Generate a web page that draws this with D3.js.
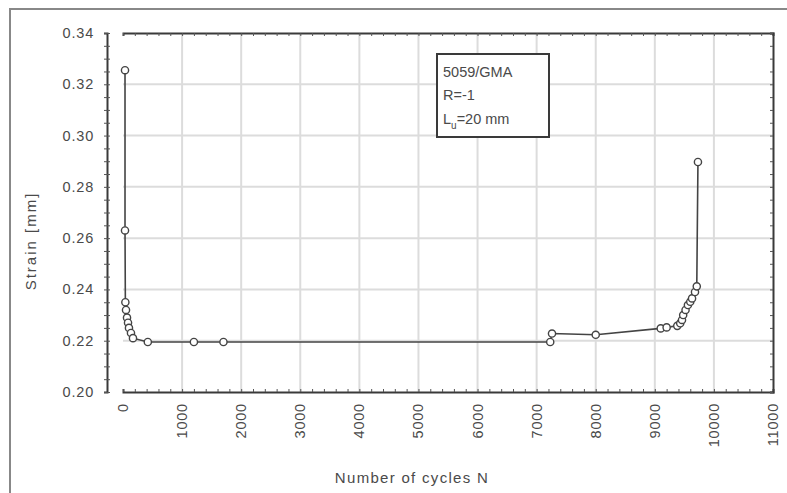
<!DOCTYPE html>
<html lang="en">
<head>
  <script src="https://d3js.org/d3.v7.min.js"></script>
  <style>
    body { margin: 0; background: #fff; }
    text { font-family: Arial, "Liberation Sans", sans-serif; fill: #4a4a4a; }
  </style>
</head>
<body>
  <script>
    var width = 787,
      height = 493;

    // cycles and strain
    var cycles = [34, 34, 40, 51, 68, 85, 101, 135, 169, 420, 1200, 1700,
      7230, 7260, 8000, 9100, 9200, 9380, 9430, 9460, 9480, 9520, 9560, 9600, 9630, 9680, 9710, 9730];
    var strain = [0.3255, 0.2630, 0.2350, 0.2320, 0.2290, 0.2270, 0.2250, 0.2230, 0.2210, 0.2195, 0.2195, 0.2195,
      0.2195, 0.2228, 0.2223, 0.2248, 0.2252, 0.2258, 0.2268, 0.2281, 0.2300, 0.2320, 0.2339, 0.2352, 0.2365, 0.2390, 0.2412, 0.2897];
    var xTicks = [0, 1000, 2000, 3000, 4000, 5000, 6000, 7000, 8000, 9000, 10000, 11000];
    var yTicks = [0.20, 0.22, 0.24, 0.26, 0.28, 0.30, 0.32, 0.34];
    var noteLines = ["5059/GMA", "R=-1"];

    var data = cycles.map(function(c, i) { return {n: c, s: strain[i]}; });

    var x = d3.scaleLinear().domain([0, 11000]).range([123, 773]);
    var y = d3.scaleLinear().domain([0.20, 0.34]).range([392, 33]);

    var svg = d3.select('body')
      .append('svg')
      .attr('width', width)
      .attr('height', height);

    // outer frame (only top and left visible)
    svg.append('path')
      .attr('d', 'M10,' + height + 'V9H' + width)
      .attr('fill', 'none')
      .attr('stroke', '#888')
      .attr('stroke-width', 2);

    // grid
    svg.append('g')
      .selectAll('line')
      .data(xTicks.slice(1, -1))
      .join('line')
      .attr('x1', function(d) { return x(d); })
      .attr('x2', function(d) { return x(d); })
      .attr('y1', y(0.34))
      .attr('y2', y(0.20))
      .attr('stroke', '#dcdcdc')
      .attr('stroke-width', 2);

    svg.append('g')
      .selectAll('line')
      .data(yTicks.slice(1, -1))
      .join('line')
      .attr('x1', x(0))
      .attr('x2', x(11000))
      .attr('y1', function(d) { return y(d); })
      .attr('y2', function(d) { return y(d); })
      .attr('stroke', '#dcdcdc')
      .attr('stroke-width', 2);

    // minor ticks on the box
    var xMinor = d3.range(0, 11001, 200);
    var yMinor = d3.range(0, 29).map(function(i) { return 0.20 + i * 0.005; });

    var axBottom = d3.axisBottom(x).tickValues(xMinor).tickSize(-3).tickFormat('');
    var axTop = d3.axisTop(x).tickValues(xMinor).tickSize(-3).tickFormat('');
    var axRight = d3.axisRight(y).tickValues(yMinor).tickSize(-3).tickFormat('');

    svg.append('g').attr('transform', 'translate(0,' + y(0.20) + ')').call(axBottom);
    svg.append('g').attr('transform', 'translate(0,' + y(0.34) + ')').call(axTop);
    svg.append('g').attr('transform', 'translate(' + x(11000) + ',0)').call(axRight);

    svg.selectAll('.domain').attr('stroke', '#3a3a3a').attr('stroke-width', 2);
    svg.selectAll('.tick line').attr('stroke', '#555');

    // offset y axis
    var axLeft = svg.append('g')
      .attr('transform', 'translate(107,0)')
      .call(d3.axisLeft(y).tickValues(yMinor).tickSize(3).tickFormat(''));
    axLeft.select('.domain').attr('stroke', '#3a3a3a').attr('stroke-width', 2);
    axLeft.selectAll('.tick line').attr('stroke', '#555').attr('x2', 3).attr('x1', -3);

    // y tick labels
    svg.append('g')
      .selectAll('text')
      .data(yTicks)
      .join('text')
      .attr('x', 94)
      .attr('y', function(d) { return y(d) + 5; })
      .attr('text-anchor', 'end')
      .style('font-size', '14.5px')
      .style('letter-spacing', '0.8px')
      .text(function(d) { return d.toFixed(2); });

    // x tick labels, rotated
    svg.append('g')
      .selectAll('text')
      .data(xTicks)
      .join('text')
      .attr('transform', function(d) { return 'translate(' + (x(d) + 5) + ',403) rotate(-90)'; })
      .attr('text-anchor', 'end')
      .style('font-size', '14.5px')
      .style('letter-spacing', '0.8px')
      .text(function(d) { return d; });

    // axis titles
    svg.append('text')
      .attr('x', 412)
      .attr('y', 483)
      .attr('text-anchor', 'middle')
      .style('font-size', '15px')
      .style('letter-spacing', '1.3px')
      .text('Number of cycles N');

    svg.append('text')
      .attr('transform', 'translate(36,241) rotate(-90)')
      .attr('text-anchor', 'middle')
      .style('font-size', '15px')
      .style('letter-spacing', '2px')
      .text('Strain [mm]');

    // series
    var line = d3.line()
      .x(function(d) { return x(d.n); })
      .y(function(d) { return y(d.s); });

    svg.append('path')
      .datum(data)
      .attr('d', line)
      .attr('fill', 'none')
      .attr('stroke', '#444')
      .attr('stroke-width', 1.6);

    svg.append('g')
      .selectAll('circle')
      .data(data)
      .join('circle')
      .attr('cx', function(d) { return x(d.n); })
      .attr('cy', function(d) { return y(d.s); })
      .attr('r', 3.6)
      .attr('fill', '#fff')
      .attr('stroke', '#444')
      .attr('stroke-width', 1.4);

    // note box
    var note = svg.append('g');
    note.append('rect')
      .attr('x', 437)
      .attr('y', 54)
      .attr('width', 112)
      .attr('height', 83)
      .attr('fill', '#fff')
      .attr('stroke', '#3a3a3a')
      .attr('stroke-width', 2);

    note.selectAll('text.l')
      .data(noteLines)
      .join('text')
      .attr('class', 'l')
      .attr('x', 443)
      .attr('y', function(d, i) { return 77 + i * 23; })
      .style('font-size', '14.5px')
      .text(function(d) { return d; });

    var lu = note.append('text')
      .attr('x', 443)
      .attr('y', 124)
      .style('font-size', '14.5px');
    lu.append('tspan').text('L');
    lu.append('tspan').attr('dy', 5).style('font-size', '10px').text('u');
    lu.append('tspan').attr('dy', -5).text('=20 mm');
  </script>
</body>
</html>
